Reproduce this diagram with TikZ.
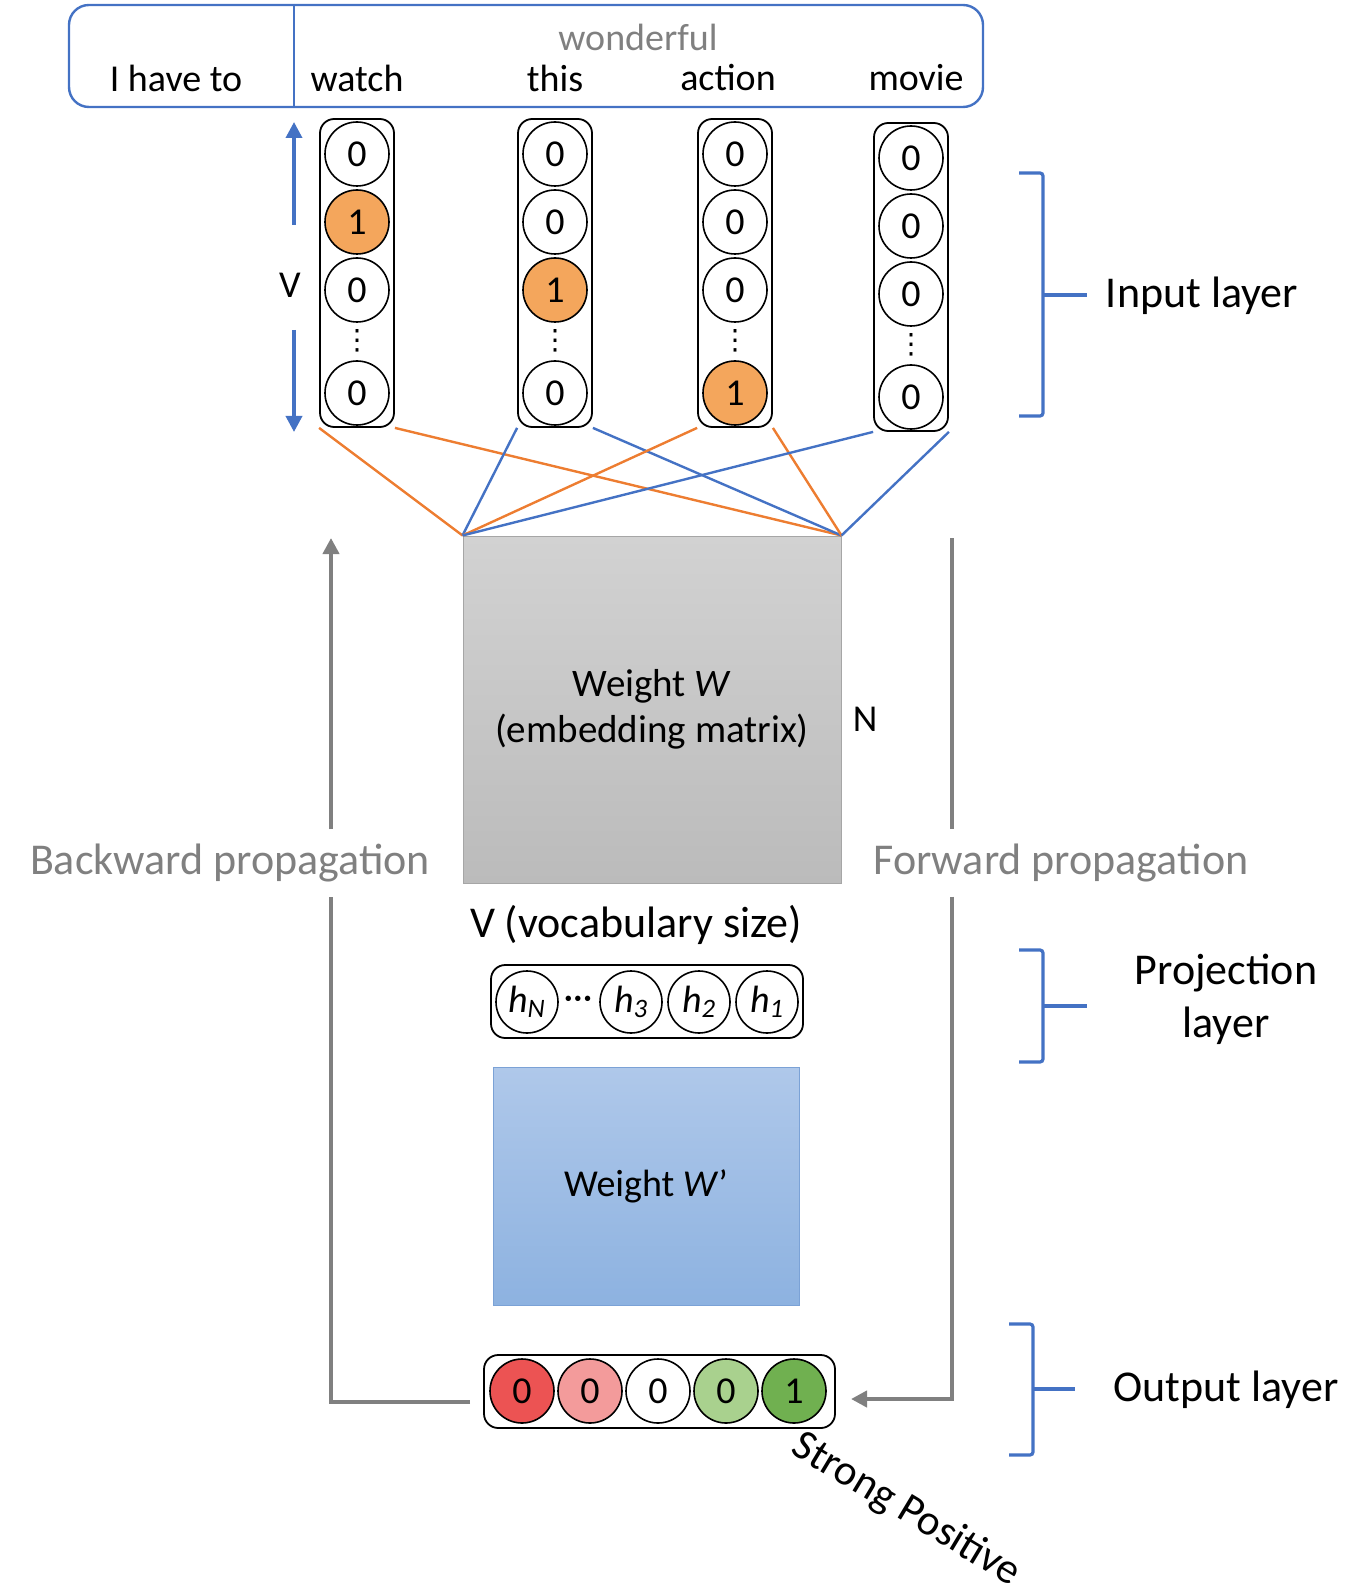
\documentclass[tikz,border=0pt]{standalone}
\usepackage{fontspec}
\setmainfont{Carlito}
\newfontfamily\glyphfont{DejaVu Sans}
\usepackage{tikz}
\usetikzlibrary{arrows.meta,positioning}
\definecolor{NetBlue}{HTML}{4472C4}
\definecolor{NetOrange}{HTML}{ED7D31}
\definecolor{HotFill}{HTML}{F4A65C}
\definecolor{PropGray}{HTML}{808080}
\definecolor{MatTop}{HTML}{D2D2D2}
\definecolor{MatBottom}{HTML}{BBBBBB}
\definecolor{MatRule}{HTML}{A6A6A6}
\definecolor{OutTop}{HTML}{AFC8EA}
\definecolor{OutBottom}{HTML}{8DB2E0}
\definecolor{OutRule}{HTML}{7BA2D6}
\definecolor{NegStrong}{HTML}{EC5353}
\definecolor{NegWeak}{HTML}{F39B9B}
\definecolor{PosWeak}{HTML}{A9D18E}
\definecolor{PosStrong}{HTML}{70B050}

\begin{document}
\begin{tikzpicture}[
  x=0.5pt,y=-0.5pt,
  font=\fontsize{19}{23}\selectfont,
  big/.style={font=\fontsize{22}{26.5}\selectfont},
  bit/.style={circle,draw,line width=0.8pt,minimum size=32pt,inner sep=0pt},
  hot/.style={bit,fill=HotFill},
  dots/.style={inner sep=0pt,font=\glyphfont\fontsize{14}{16}\selectfont},
  col/.style={draw,rounded corners=2.5mm,line width=0.9pt,minimum width=37pt,minimum height=154pt},
  strip/.style={draw,rounded corners=2.5mm,line width=0.9pt,minimum height=36.5pt},
  mat/.style={draw=MatRule,line width=0.5pt,top color=MatTop,bottom color=MatBottom,align=center},
  link/.style={line width=1.2pt},
  prop/.style={draw=PropGray,line width=2pt},
  proplab/.style={big,text=PropGray,outer sep=4pt},
  brace/.style={draw=NetBlue,line width=1.6pt,rounded corners=1.5pt},
  tip/.style={-{Triangle[length=8pt,width=8pt]}}
]
\useasboundingbox (0,0) rectangle (1349,1593);

% sentence on top
\node[draw=NetBlue,line width=1.2pt,rounded corners=3.5mm,minimum width=457pt,minimum height=51pt] (sentence) at (526,56) {};
\coordinate (cut) at (294,0);
\draw[NetBlue,line width=1.2pt] (sentence.north -| cut) -- (sentence.south -| cut);
\node (w0) at (176,78) {I have to};
\node (w1) at (357,78) {watch};
\node (w2) at (555,78) {this};
\node (w3) at (728,78) {action};
\node (w4) at (916,78) {movie};
\node[text=PropGray] (wonder) at (638,37) {wonderful};

% one-hot input vectors
\foreach \c/\x/\dy/\hot in {1/357/0/2, 2/555/0/3, 3/735/0/5, 4/911/4/0}{
  \node[col] (col\c) at (\x,273+\dy) {};
  \foreach \r/\ry in {1/154, 2/222, 3/290, 5/393}{
    \ifnum\r=\hot
      \node[hot] (col\c-\r) at (\x,\ry+\dy) {1};
    \else
      \node[bit] (col\c-\r) at (\x,\ry+\dy) {0};
    \fi
  }
  \node[dots] (col\c-dots) at (\x,341+\dy) {⋮};
}
\node (vlab) at (290,285) {V};
\coordinate (vup) at (294,225);
\coordinate (vtop) at (294,122);
\coordinate (vdown) at (294,330);
\coordinate (vbot) at (294,432);
\draw[NetBlue,line width=1.8pt,tip] (vup) -- (vtop);
\draw[NetBlue,line width=1.8pt,tip] (vdown) -- (vbot);

% embedding matrix
\node[mat,font=\fontsize{19.5}{23}\selectfont,minimum width=189pt,minimum height=173.5pt] (wmat) at (652,709.5) {Weight \textit{W}\\(embedding matrix)};
\node (ndim) at (865,719) {N};
\node[big] (vocab) at (636,925) {V (vocabulary size)};

\draw[link,NetOrange] (col1.south west) -- (wmat.north west);
\draw[link,NetOrange] (col1.south east) -- (wmat.north east);
\draw[link,NetBlue] (col2.south west) -- (wmat.north west);
\draw[link,NetBlue] (col2.south east) -- (wmat.north east);
\draw[link,NetOrange] (col3.south west) -- (wmat.north west);
\draw[link,NetOrange] (col3.south east) -- (wmat.north east);
\draw[link,NetBlue] (col4.south west) -- (wmat.north west);
\draw[link,NetBlue] (col4.south east) -- (wmat.north east);

% projection layer
\node[strip,minimum width=156pt] (proj) at (647,1001.5) {};
\node[bit,minimum size=31pt] (hN) at (527,1002) {\textit{h}\textsubscript{\textit{N}}};
\node[inner sep=0pt] (hdots) at (578,1003) {···};
\node[bit,minimum size=31pt] (h3) at (631,1002) {\textit{h}\textsubscript{\textit{3}}};
\node[bit,minimum size=31pt] (h2) at (699,1002) {\textit{h}\textsubscript{\textit{2}}};
\node[bit,minimum size=31pt] (h1) at (767,1002) {\textit{h}\textsubscript{\textit{1}}};

\node[mat,draw=OutRule,top color=OutTop,bottom color=OutBottom,minimum width=153pt,minimum height=119pt] (wout) at (646,1186) {Weight \textit{W}’};

% output layer
\node[strip,minimum width=175.5pt] (outvec) at (659.5,1391.5) {};
\node[bit,fill=NegStrong] (o1) at (522,1391) {0};
\node[bit,fill=NegWeak] (o2) at (590,1391) {0};
\node[bit] (o3) at (658,1391) {0};
\node[bit,fill=PosWeak] (o4) at (726,1391) {0};
\node[bit,fill=PosStrong] (o5) at (794,1391) {1};
\node[rotate=-31,inner sep=0pt,font=\fontsize{21.5}{26}\selectfont] (strong) at (906,1510) {Strong Positive};

% propagation arrows
\node[proplab] (backlab) at (230,863) {Backward propagation};
\node[proplab] (forlab) at (1061,863) {Forward propagation};
\coordinate (bstart) at (470,1402);
\coordinate (bturn) at (331,1402);
\coordinate (btop) at (331,538);
\draw[prop] (bstart) -- (bturn) -- (bturn |- backlab.south);
\draw[prop,tip] (bturn |- backlab.north) -- (btop);
\coordinate (ftop) at (952,538);
\coordinate (fturn) at (952,1399);
\coordinate (fend) at (851,1399);
\draw[prop] (ftop) -- (ftop |- forlab.north);
\draw[prop,tip] (ftop |- forlab.south) -- (fturn) -- (fend);

% layer braces
\draw[brace] (1019,173) -- (1043,173) -- (1043,416) -- (1019,416);
\draw[brace] (1043,295) -- (1087,295);
\node[big] (inlab) at (1202,296) {Input layer};
\draw[brace] (1019,950) -- (1043,950) -- (1043,1062) -- (1019,1062);
\draw[brace] (1043,1006) -- (1087,1006);
\node[big,align=center] (projlab) at (1226,999) {Projection\\layer};
\draw[brace] (1009,1324) -- (1033,1324) -- (1033,1455) -- (1009,1455);
\draw[brace] (1033,1389) -- (1075,1389);
\node[big] (outlab) at (1226,1390) {Output layer};
\end{tikzpicture}
\end{document}
